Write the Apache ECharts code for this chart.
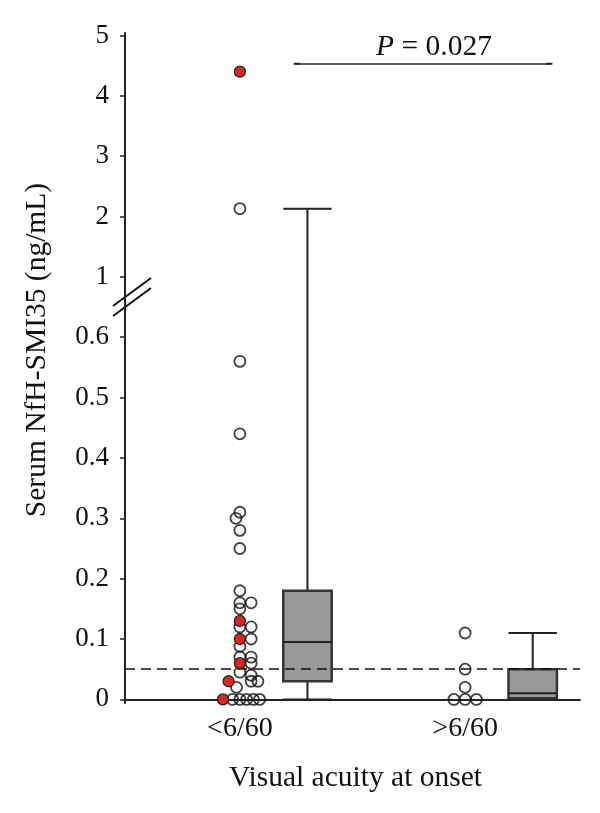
<!DOCTYPE html>
<html>
<head>
<meta charset="utf-8">
<script src="https://cdn.jsdelivr.net/npm/echarts@6/dist/echarts.min.js"></script>
<style>
  html, body { margin: 0; padding: 0; background: #fff; }
  #chart { width: 600px; height: 813px; }
</style>
</head>
<body>
<div id="chart"></div>
<script>
  // groups on the x axis
  const categories = ['<6/60', '>6/60']

  // individual values (ng/mL), paired with a lane (in dot widths) so stacked dots sit side by side
  const openDots1 = [[2.13, 0], [0.56, 0], [0.44, 0], [0.31, 0], [0.30, -0.35], [0.28, 0], [0.25, 0],
    [0.18, 0], [0.16, 0], [0.16, 1], [0.15, 0], [0.12, 0], [0.12, 1], [0.10, 1], [0.088, 0],
    [0.07, 0], [0.07, 1], [0.06, 1], [0.045, 0], [0.04, 1], [0.03, 1], [0.03, 1.6], [0.02, -0.3],
    [0, -0.65], [0, 0], [0, 0.6], [0, 1.2], [0, 1.75]]
  const redDots1 = [[4.40, 0], [0.13, 0], [0.10, 0], [0.06, 0], [0.03, -1], [0, -1.5]]
  const openDots2 = [[0.11, 0], [0.05, 0], [0.02, 0], [0, -1], [0, 0], [0, 1]]

  // box stats per group: min, Q1, median, Q3, max
  const boxStats = [
    [0, 0.03, 0.095, 0.18, 2.13],
    [0, 0.002, 0.01, 0.05, 0.11]
  ]

  const cutoff = 0.05
  const pValue = '0.027'

  // y tick labels (real values) on the broken axis
  const yTicks = [0, 0.1, 0.2, 0.3, 0.4, 0.5, 0.6, 1, 2, 3, 4, 5]

  // broken axis: 0-0.6 at 0.1 per step, 1-5 at 1 per step
  function toAxis(v) {
    if (v <= 0.6) return v * 10
    if (v >= 1) return v + 6
    return 6 + (v - 0.6) / 0.4
  }

  const laneWidth = 0.05
  const boxShift = 0.3
  const boxWidth = 0.215
  const font = 'Liberation Serif'

  function dots(list, cat) {
    return list.map(d => [cat + d[1] * laneWidth, toAxis(d[0])])
  }

  const tickPos = yTicks.map(toAxis)
  const chart = echarts.init(document.getElementById('chart'))

  chart.setOption({
    animation: false,
    grid: {left: 125, right: 20, top: 33, bottom: 110},
    xAxis: {
      type: 'value',
      min: 0.49,
      max: 2.51,
      name: 'Visual acuity at onset',
      nameLocation: 'middle',
      nameGap: 60,
      nameTextStyle: {fontFamily: font, fontSize: 29.5, color: '#111', padding: [0, 0, 0, 6]},
      axisLine: {lineStyle: {color: '#222', width: 2}},
      axisTick: {show: false},
      splitLine: {show: false},
      axisLabel: {
        customValues: [1, 2],
        formatter: v => categories[Math.round(v) - 1],
        fontFamily: font,
        fontSize: 28,
        color: '#111',
        margin: 12
      }
    },
    yAxis: {
      type: 'value',
      min: -0.06,
      max: 11.04,
      name: 'Serum NfH-SMI35 (ng/mL)',
      nameLocation: 'middle',
      nameGap: 73,
      nameTextStyle: {fontFamily: font, fontSize: 29.5, color: '#111', padding: [0, 0, 0, 36]},
      axisLine: {show: true, lineStyle: {color: '#222', width: 2}},
      axisTick: {show: true, length: 5, customValues: tickPos, lineStyle: {color: '#222', width: 1.5}},
      splitLine: {show: false},
      axisLabel: {
        customValues: tickPos,
        formatter: t => String(yTicks[tickPos.indexOf(t)]),
        fontFamily: font,
        fontSize: 27,
        color: '#111',
        margin: 16
      }
    },
    series: [
      {
        // cutoff line
        type: 'line',
        data: [],
        z: 1,
        markLine: {
          silent: true,
          symbol: ['none', 'none'],
          label: {show: false},
          lineStyle: {color: '#111', type: [10, 6], width: 1.5},
          data: [{yAxis: toAxis(cutoff)}]
        }
      },
      {
        // p-value bracket
        type: 'line',
        data: [],
        z: 5,
        markLine: {
          silent: true,
          symbol: ['rect', 'rect'],
          symbolSize: [2, 6],
          lineStyle: {color: '#222', type: 'solid', width: 1.5},
          label: {
            show: true,
            position: 'middle',
            distance: 2,
            offset: [11, 0],
            formatter: '{p|P} = ' + pValue,
            fontFamily: font,
            fontSize: 29.5,
            color: '#111',
            rich: {p: {fontStyle: 'italic', fontFamily: font, fontSize: 29.5, color: '#111'}}
          },
          data: [[{coord: [1.252, toAxis(4.53)]}, {coord: [2.374, toAxis(4.53)]}]]
        }
      },
      {
        type: 'custom',
        z: 3,
        encode: {x: 0, y: [1, 2, 3, 4, 5]},
        data: boxStats.map((s, i) => [i + 1 + boxShift].concat(s.map(toAxis))),
        renderItem(params, api) {
          const x = api.value(0)
          const p = i => api.coord([x, api.value(i)])
          const half = api.size([boxWidth, 0])[0] / 2
          const pMin = p(1), q1 = p(2), med = p(3), q3 = p(4), pMax = p(5)
          const line = (x1, y1, x2, y2, w) => ({
            type: 'line',
            shape: {x1, y1, x2, y2},
            style: {stroke: '#222', lineWidth: w}
          })
          return {
            type: 'group',
            children: [
              line(pMax[0], pMax[1], q3[0], q3[1], 2),
              line(pMin[0], pMin[1], q1[0], q1[1], 2),
              line(pMax[0] - half, pMax[1], pMax[0] + half, pMax[1], 2),
              line(pMin[0] - half, pMin[1], pMin[0] + half, pMin[1], 2),
              {
                type: 'rect',
                shape: {x: q3[0] - half, y: q3[1], width: half * 2, height: q1[1] - q3[1]},
                style: {fill: '#999999', stroke: '#333', lineWidth: 2.5}
              },
              line(med[0] - half, med[1], med[0] + half, med[1], 2)
            ]
          }
        }
      },
      {
        type: 'scatter',
        z: 4,
        symbolSize: 11,
        data: dots(openDots1, 1).concat(dots(openDots2, 2)),
        itemStyle: {color: 'rgba(255,255,255,0)', borderColor: '#111', borderWidth: 1.8}
      },
      {
        type: 'scatter',
        z: 5,
        symbolSize: 11,
        data: dots(redDots1, 1),
        itemStyle: {color: '#e32222', borderColor: '#222', borderWidth: 1.3, opacity: 1}
      }
    ]
  })

  // axis break marks
  chart.setOption({
    graphic: [
      {type: 'line', shape: {x1: 113, y1: 306, x2: 151, y2: 278}, style: {stroke: '#111', lineWidth: 2}},
      {type: 'line', shape: {x1: 113, y1: 316, x2: 151, y2: 288}, style: {stroke: '#111', lineWidth: 2}}
    ]
  })
</script>
</body>
</html>
